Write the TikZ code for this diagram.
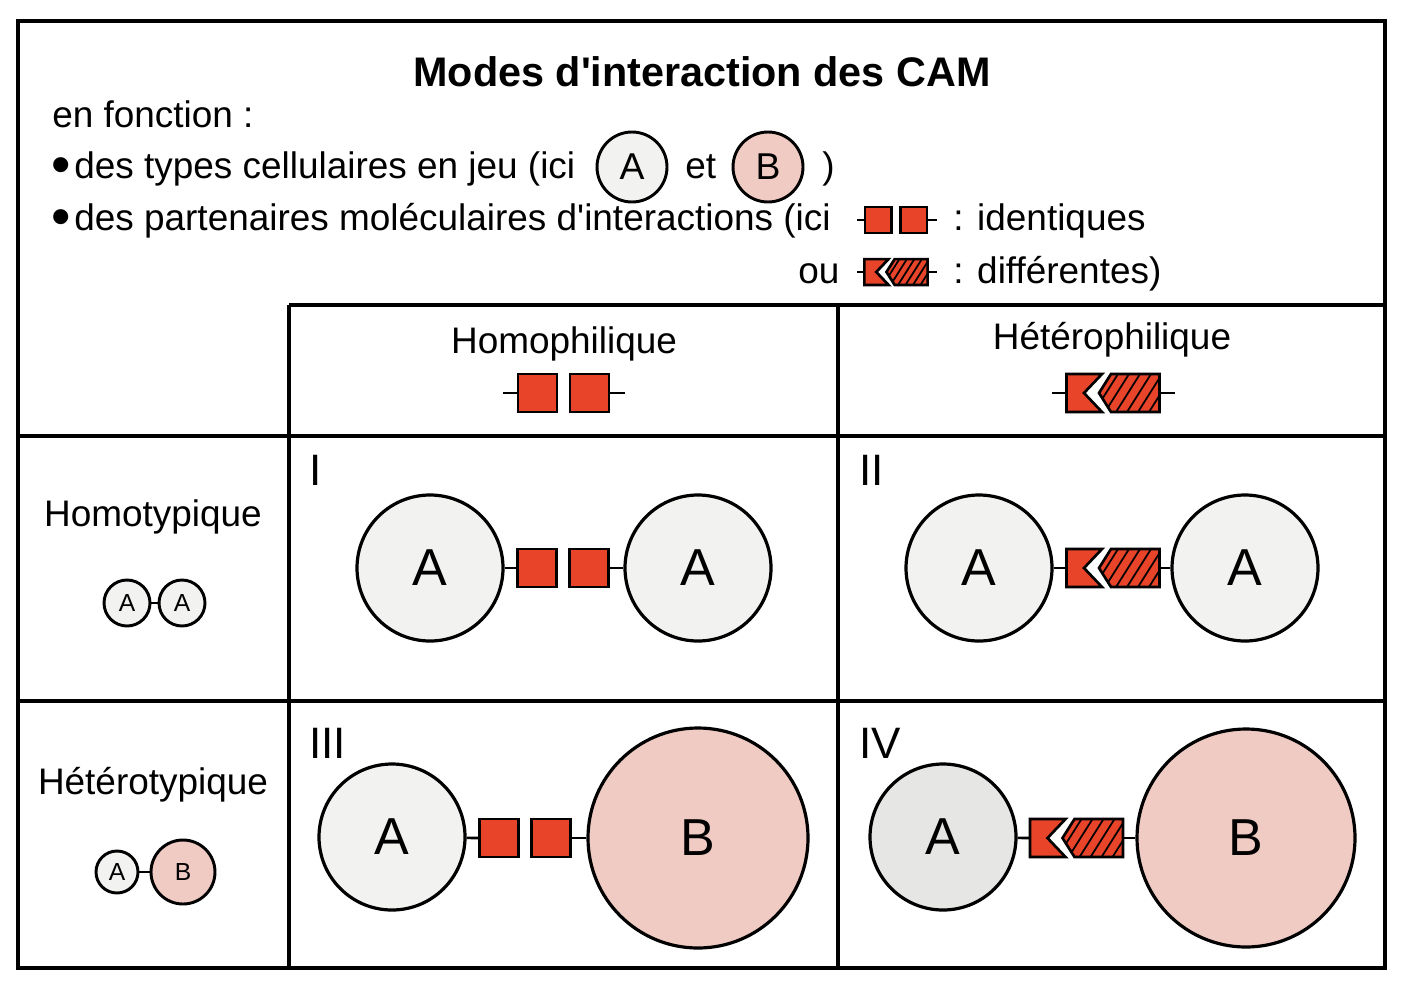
\documentclass[tikz,border=0pt]{standalone}
\usepackage{fontspec}
\setmainfont{Liberation Sans}[Ligatures=TeXOff]
\definecolor{camred}{RGB}{232,68,42}
\definecolor{cellgrey}{RGB}{242,242,240}
\definecolor{cellgreyb}{RGB}{230,230,228}
\definecolor{cellpink}{RGB}{240,203,196}
\newcommand{\bigbullet}{\raisebox{-4.1pt}{\scalebox{1.5}{•}}\hspace{0.1em}}
\begin{document}
\begin{tikzpicture}[x=0.75pt,y=-0.75pt,
  frame/.style={line width=2.3pt},
  conn/.style={line width=2pt},
  glyph/.style={fill=camred,draw=black,line width=2pt,line join=miter},
  bodytext/.style={inner sep=0pt,font=\fontsize{27.7}{32}\selectfont},
  numtext/.style={inner sep=0pt,anchor=base west,font=\fontsize{33}{36}\selectfont},
  cell/.style={circle,draw=black,line width=2.4pt,fill=cellgrey,inner sep=0pt,
    font=\fontsize{39}{40}\selectfont},
  bigA/.style={cell,minimum size=109.5pt},
  bigB/.style={cell,fill=cellpink,minimum size=165pt},
  legcell/.style={circle,draw=black,line width=2.2pt,fill=cellgrey,inner sep=0pt,
    minimum size=52.5pt,font=\fontsize{28}{30}\selectfont},
  smallcell/.style={circle,draw=black,line width=2.2pt,fill=cellgrey,inner sep=0pt,
    font=\fontsize{18.5}{19}\selectfont},
  homo/.pic={
    \draw[glyph] (-45.5,-19) rectangle (-6.5,19);
    \draw[glyph] (6.5,-19) rectangle (45.5,19);
    \coordinate (-w) at (-45.5,0);
    \coordinate (-e) at (45.5,0);
  },
  hetero/.pic={
    \draw[glyph] (-46.5,-19) -- (-11,-19) -- (-29,0) -- (-11,19) -- (-46.5,19) -- cycle;
    \fill[camred] (-2,-19) -- (46.5,-19) -- (46.5,19) -- (-2,19) -- (-14,0) -- cycle;
    \begin{scope}
      \clip (-2,-19) -- (46.5,-19) -- (46.5,19) -- (-2,19) -- (-14,0) -- cycle;
      \foreach \k in {-40,-29,...,70} \draw[line width=1.3pt] (\k-12,19) -- (\k+12,-19);
    \end{scope}
    \draw[line width=2pt,line join=miter] (-2,-19) -- (46.5,-19) -- (46.5,19) -- (-2,19) -- (-14,0) -- cycle;
    \coordinate (-w) at (-46.5,0);
    \coordinate (-e) at (46.5,0);
  }
]
\useasboundingbox (0,0) rectangle (1408,992);
\fill[white] (0,0) rectangle (1408,992);

% frame and table
\draw[frame] (18,21) rectangle (1385,968);
\draw[frame] (289,305) -- (1385,305);
\draw[frame] (289,305) -- (289,968);
\draw[frame] (838,305) -- (838,968);
\draw[frame] (18,436) -- (1385,436);
\draw[frame] (18,701) -- (1385,701);

% title and legend
\node[inner sep=0pt,anchor=base,font=\fontsize{31}{34}\selectfont\bfseries] (title) at (702,86) {Modes d'interaction des CAM};
\node[bodytext,anchor=base west] (l1) at (52,127) {en fonction :};
\node[bodytext,anchor=base west] (l2) at (51,178) {\bigbullet{}des types cellulaires en jeu (ici};
\node[legcell] (legA) at (632,167) {A};
\node[bodytext,anchor=base west] (et) at (685,178) {et};
\node[legcell,fill=cellpink] (legB) at (768,167) {B};
\node[bodytext,anchor=base west] (par) at (822,178) {)};
\node[bodytext,anchor=base west] (l3) at (51,230) {\bigbullet{}des partenaires moléculaires d'interactions (ici};
\pic[scale=0.68] (lh) at (896,220) {homo};
\coordinate (lhl) at (857,220);
\coordinate (lhr) at (937,220);
\draw[conn] (lhl) -- (lh-w);
\draw[conn] (lh-e) -- (lhr);
\node[bodytext,anchor=base west] (ident) at (953,230) {: identiques};
\node[bodytext,anchor=base west] (ou) at (798,283) {ou};
\pic[scale=0.68] (lt) at (896,272) {hetero};
\coordinate (ltl) at (857,272);
\coordinate (ltr) at (937,272);
\draw[conn] (ltl) -- (lt-w);
\draw[conn] (lt-e) -- (ltr);
\node[bodytext,anchor=base west] (diff) at (953,283) {: différentes)};

% column headers
\node[bodytext,anchor=base] (hhomo) at (564,353) {Homophilique};
\pic (hg) at (563.5,393) {homo};
\coordinate (hgl) at (503,393);
\coordinate (hgr) at (625,393);
\draw[conn] (hgl) -- (hg-w);
\draw[conn] (hg-e) -- (hgr);
\node[bodytext,anchor=base] (hhet) at (1112,349) {Hétérophilique};
\pic (tg) at (1113,393) {hetero};
\coordinate (tgl) at (1052,393);
\coordinate (tgr) at (1175,393);
\draw[conn] (tgl) -- (tg-w);
\draw[conn] (tg-e) -- (tgr);

% row headers
\node[bodytext,anchor=base] (rhomo) at (153,526) {Homotypique};
\node[smallcell,minimum size=34.5pt] (sA1) at (127,603) {A};
\node[smallcell,minimum size=34.5pt] (sA2) at (182,603) {A};
\draw[conn] (sA1) -- (sA2);
\node[bodytext,anchor=base] (rhet) at (153,794) {Hétérotypique};
\node[smallcell,minimum size=31.5pt] (sA3) at (117,872) {A};
\node[smallcell,fill=cellpink,minimum size=48pt] (sB) at (183,872) {B};
\draw[conn] (sA3) -- (sB);

% numerals
\node[numtext] (n1) at (309,485) {I};
\node[numtext] (n2) at (859,485) {II};
\node[numtext] (n3) at (309,758) {III};
\node[numtext] (n4) at (859,758) {IV};

% cell I
\node[bigA] (c1a) at (430,568) {A};
\node[bigA] (c1b) at (698,568) {A};
\pic (g1) at (563,568) {homo};
\draw[conn] (c1a) -- (g1-w);
\draw[conn] (g1-e) -- (c1b);

% cell II
\node[bigA] (c2a) at (979,568) {A};
\node[bigA] (c2b) at (1245,568) {A};
\pic (g2) at (1113,568) {hetero};
\draw[conn] (c2a) -- (g2-w);
\draw[conn] (g2-e) -- (c2b);

% cell III
\node[bigA] (c3a) at (392,837) {A};
\node[bigB] (c3b) at (698,838) {B};
\pic (g3) at (525,838) {homo};
\draw[conn] (c3a) -- (g3-w);
\draw[conn] (g3-e) -- (c3b);

% cell IV
\node[bigA,fill=cellgreyb] (c4a) at (943,837) {A};
\node[bigB,minimum size=163.5pt] (c4b) at (1246,838) {B};
\pic (g4) at (1076.5,838) {hetero};
\draw[conn] (c4a) -- (g4-w);
\draw[conn] (g4-e) -- (c4b);
\end{tikzpicture}
\end{document}
